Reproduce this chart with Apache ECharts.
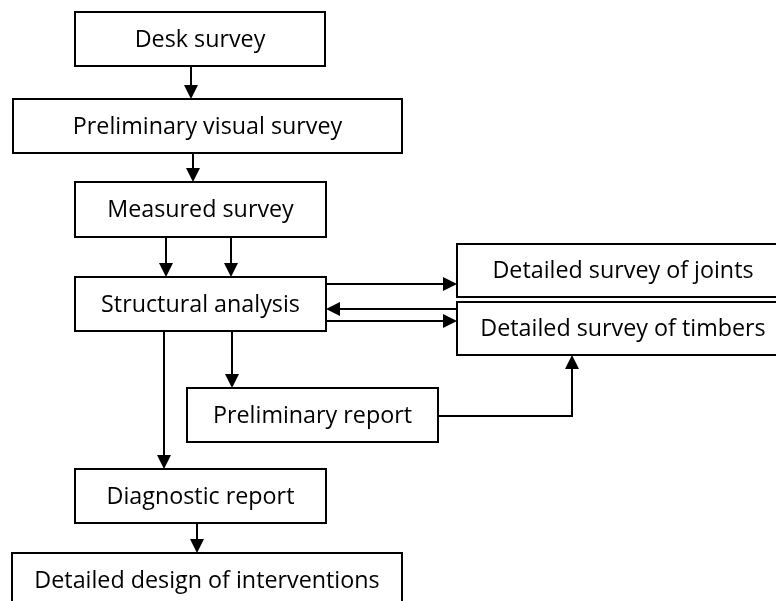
<!DOCTYPE html>
<html>
<head>
<meta charset="utf-8">
<script src="https://cdn.jsdelivr.net/npm/echarts@6/dist/echarts.min.js"></script>
<style>
  html, body { margin: 0; padding: 0; background: #fff; }
  #main { width: 776px; height: 601px; }
</style>
</head>
<body>
<div id="main"></div>
<script>
// flowchart steps, boxes given in page units (x right, y down)
const nodeNames = [
  'Desk survey',
  'Preliminary visual survey',
  'Measured survey',
  'Structural analysis',
  'Detailed survey of joints',
  'Detailed survey of timbers',
  'Preliminary report',
  'Diagnostic report',
  'Detailed design of interventions'
]
const nodeLeft = [75, 13, 75, 75, 457, 457, 187, 75, 12]
const nodeTop = [12, 99, 182, 277, 244, 302, 388, 469, 553]
const nodeRight = [325, 402, 326, 326, 789, 789, 438, 326, 402]
const nodeBottom = [66, 153, 237, 331, 297, 355, 442, 523, 607]

// connectors, arrow head at the last point
const edgePaths = [
  [[191, 66], [191, 99]],
  [[193, 153], [193, 182]],
  [[166, 237], [166, 277]],
  [[231, 237], [231, 277]],
  [[326, 284], [457, 284]],
  [[457, 309], [326, 309]],
  [[326, 321], [457, 321]],
  [[232, 331], [232, 388]],
  [[164, 331], [164, 469]],
  [[438, 416], [572, 416], [572, 355]],
  [[197, 523], [197, 553]]
]

const chart = echarts.init(document.getElementById('main'))

function renderBox (params, api) {
  const i = params.dataIndex
  const p0 = api.coord([nodeLeft[i], nodeTop[i]])
  const p1 = api.coord([nodeRight[i], nodeBottom[i]])
  return {
    type: 'group',
    children: [
      {
        type: 'rect',
        shape: { x: p0[0], y: p0[1], width: p1[0] - p0[0], height: p1[1] - p0[1] },
        style: { fill: '#fff', stroke: '#000', lineWidth: 2 }
      },
      {
        type: 'text',
        x: (p0[0] + p1[0]) / 2,
        y: (p0[1] + p1[1]) / 2 + 1,
        style: {
          text: nodeNames[i],
          textAlign: 'center',
          textVerticalAlign: 'middle',
          font: '23.3px "Open Sans"',
          fill: '#000'
        }
      }
    ]
  }
}

function renderEdge (params, api) {
  const pts = edgePaths[params.dataIndex].map(function (p) { return api.coord(p) })
  const n = pts.length
  const tip = pts[n - 1]
  const prev = pts[n - 2]
  let dx = tip[0] - prev[0]
  let dy = tip[1] - prev[1]
  const len = Math.sqrt(dx * dx + dy * dy)
  dx /= len
  dy /= len
  const headLen = 14
  const headHalf = 7
  const base = [tip[0] - dx * headLen, tip[1] - dy * headLen]
  const linePts = pts.slice(0, n - 1).concat([base])
  return {
    type: 'group',
    children: [
      {
        type: 'polyline',
        shape: { points: linePts },
        style: { stroke: '#000', lineWidth: 2, fill: null }
      },
      {
        type: 'polygon',
        shape: {
          points: [
            tip,
            [base[0] - dy * headHalf, base[1] + dx * headHalf],
            [base[0] + dy * headHalf, base[1] - dx * headHalf]
          ]
        },
        style: { fill: '#000' }
      }
    ]
  }
}

chart.setOption({
  animation: false,
  backgroundColor: '#fff',
  grid: { left: 0, right: 0, top: 0, bottom: 0 },
  xAxis: { type: 'value', min: 0, max: 776, show: false },
  yAxis: { type: 'value', min: 0, max: 601, inverse: true, show: false },
  series: [
    {
      type: 'custom',
      clip: false,
      renderItem: renderEdge,
      data: edgePaths.map(function (p, i) { return [i] })
    },
    {
      type: 'custom',
      clip: false,
      renderItem: renderBox,
      data: nodeNames.map(function (name, i) { return [i] })
    }
  ]
})
</script>
</body>
</html>
